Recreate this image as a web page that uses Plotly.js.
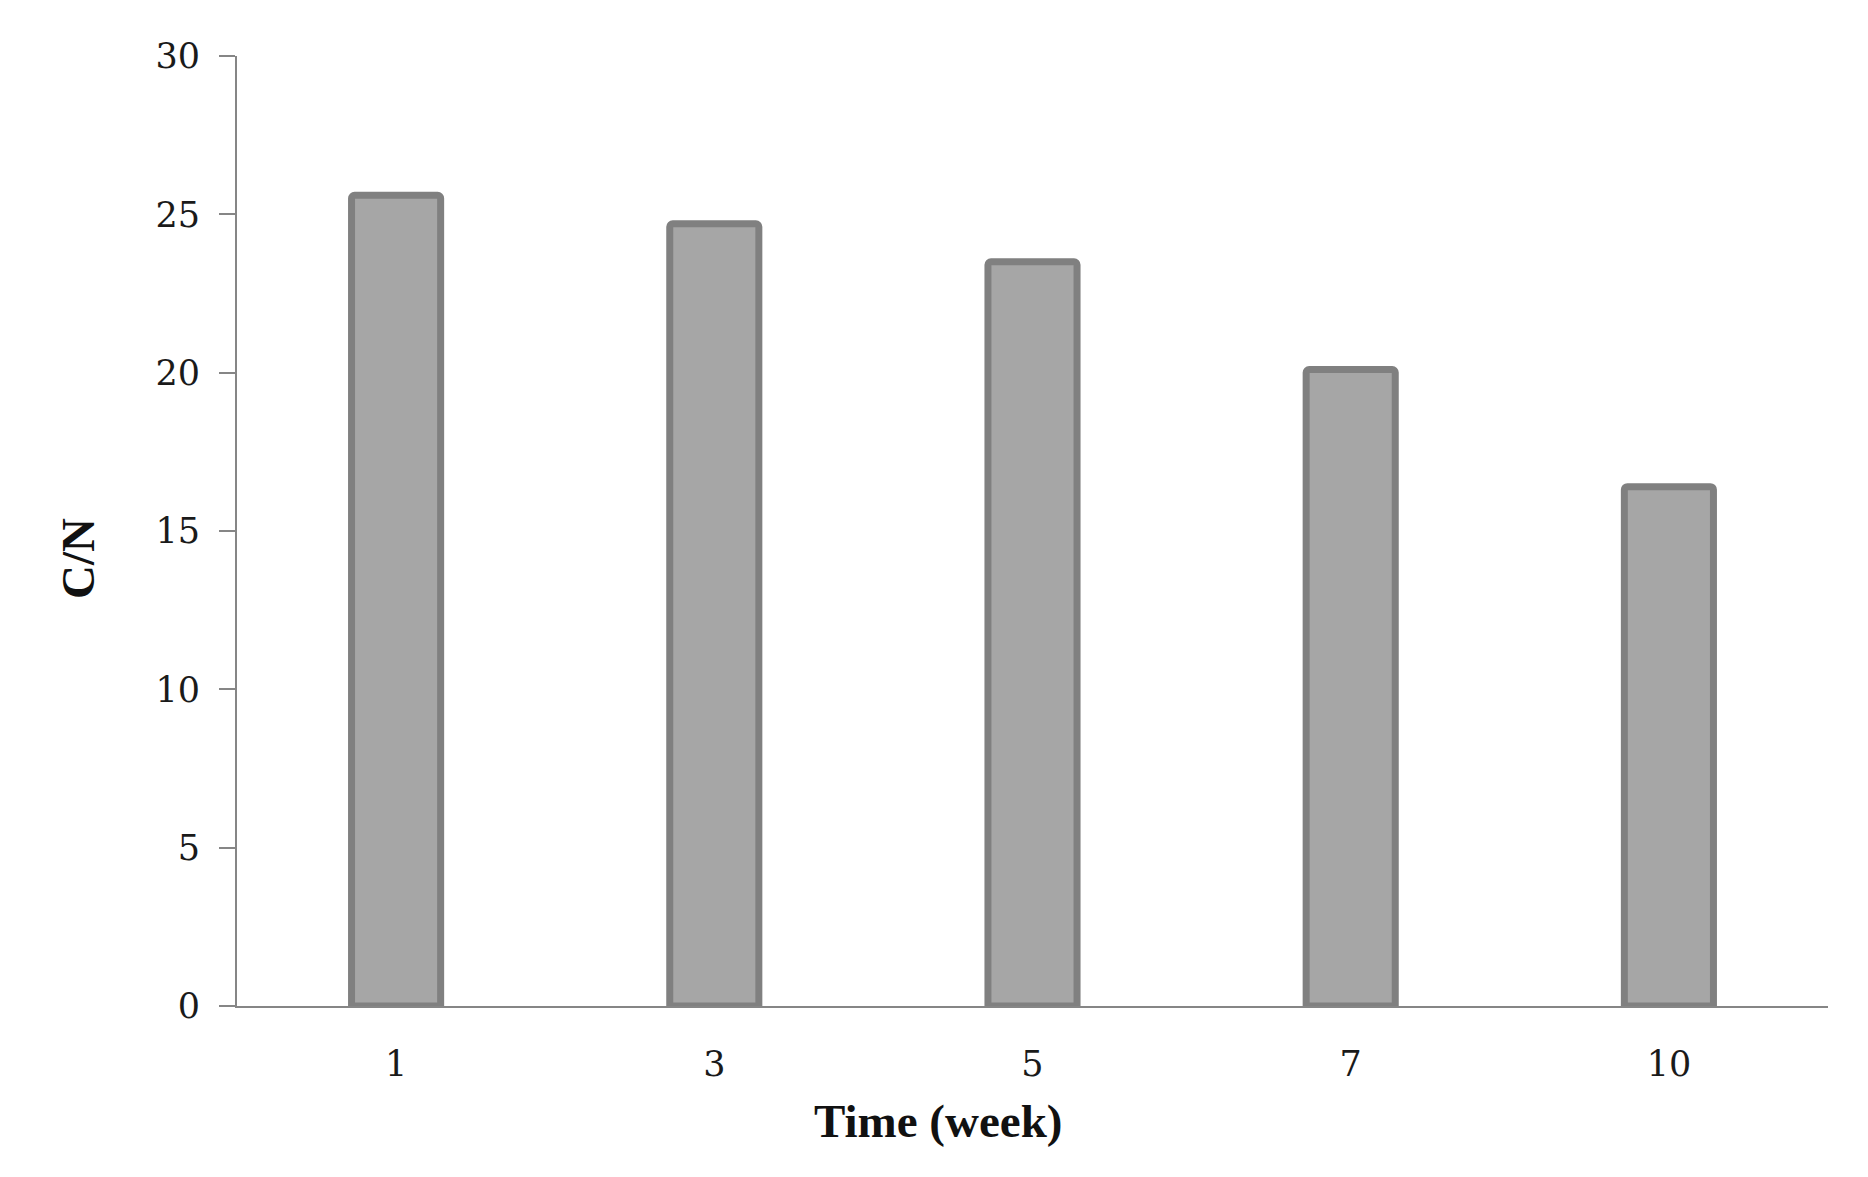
<!DOCTYPE html>
<html>
<head>
<meta charset="utf-8">
<script src="https://cdn.plot.ly/plotly-3.0.1.min.js"></script>
<style>html,body{margin:0;padding:0;background:#fff;}#chart{width:1868px;height:1177px;}</style>
</head>
<body>
<div id="chart"></div>
<script>
const weeks = ['1', '3', '5', '7', '10'];
const cnRatio = [25.6, 24.7, 23.5, 20.1, 16.4];
const yTickVals = [0, 5, 10, 15, 20, 25, 30];
const xTitle = 'Time (week)';
const yTitle = 'C/N';

const tickFont = {family: 'DejaVu Serif, Liberation Serif, serif', size: 35, color: '#1a1a1a'};
const titleFont = {family: 'Liberation Serif, Times New Roman, serif', size: 47, color: '#111'};

const data = [{
  type: 'bar',
  x: weeks,
  y: cnRatio,
  width: 0.28,
  marker: {color: '#a6a6a6', line: {color: '#808080', width: 7}, cornerradius: 3},
  hoverinfo: 'x+y'
}];

const layout = {
  width: 1868, height: 1177,
  margin: {l: 237, r: 40, t: 56, b: 171},
  paper_bgcolor: '#fff', plot_bgcolor: '#fff',
  showlegend: false,
  xaxis: {
    type: 'category',
    range: [-0.5, 4.5],
    showline: true, linecolor: '#868686', linewidth: 2,
    ticks: '', showgrid: false, zeroline: false,
    tickfont: tickFont,
    ticklabelstandoff: 26
  },
  yaxis: {
    range: [0, 30],
    tickvals: yTickVals,
    showline: true, linecolor: '#868686', linewidth: 2,
    ticks: 'outside', ticklen: 16, tickwidth: 2, tickcolor: '#868686',
    showgrid: false, zeroline: false,
    tickfont: tickFont,
    ticklabelstandoff: 12
  },
  annotations: [
    {text: '<b>' + xTitle + '</b>', xref: 'paper', yref: 'paper', x: (938 - 237) / 1591, y: -0.121,
     xanchor: 'center', yanchor: 'middle', showarrow: false, font: titleFont},
    {text: '<b>' + yTitle + '</b>', xref: 'paper', yref: 'paper', x: -0.1, y: (1006 - 558) / 950,
     xanchor: 'center', yanchor: 'middle', textangle: -90, showarrow: false, font: titleFont}
  ]
};

Plotly.newPlot('chart', data, layout, {displayModeBar: false, staticPlot: true});
</script>
</body>
</html>
